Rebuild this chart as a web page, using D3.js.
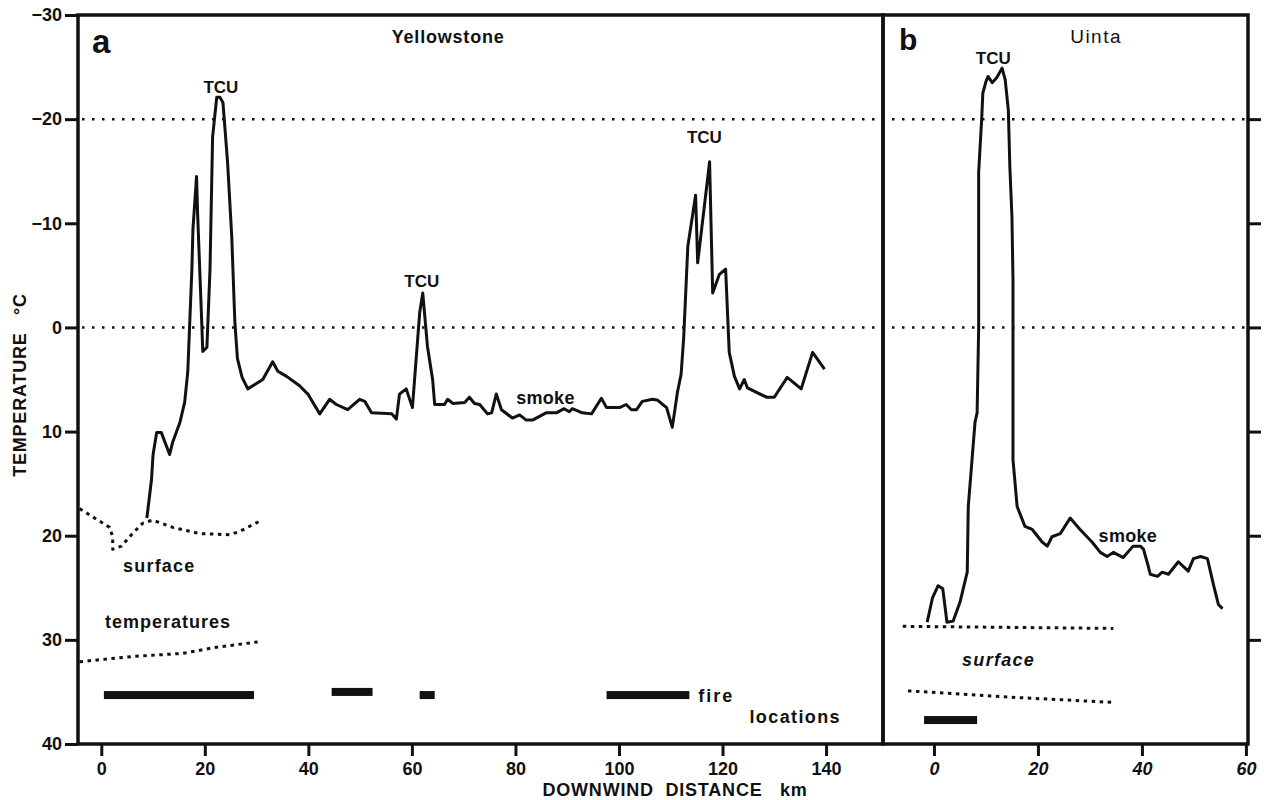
<!DOCTYPE html>
<html>
<head>
<meta charset="utf-8">
<script src="https://cdn.jsdelivr.net/npm/d3@7"></script>
<style>
  body { margin: 0; background: #fff; }
  text { font-family: "Liberation Sans", Arial, sans-serif; fill: #111; }
</style>
</head>
<body>
<svg id="chart" width="1264" height="800"></svg>
<script>
// temperature traces: [km downwind, deg C]
var yellowstoneTrace = [[8.8,18.3],[9.7,14.6],[10,12.2],[10.7,10.1],[11.6,10.1],[13.2,12.2],[13.8,11.0],[15.2,9.1],[16.1,7.2],[16.7,4.3],
  [17.5,-5.6],[17.7,-9.4],[18.4,-14.5],[18.6,-11.0],[19.4,-0.5],[19.6,2.3],[20.4,1.9],[21.0,-5.6],[21.5,-18.3],[22.3,-22.1],
  [22.9,-22.1],[23.5,-21.6],[24.4,-15.8],[25.2,-8.7],[25.8,-0.5],[26.3,3.0],[27.2,4.8],[28.3,5.9],[31.2,5.0],[33.1,3.3],
  [34.1,4.2],[35.8,4.7],[38.3,5.6],[39.9,6.4],[42.2,8.3],[44.1,6.9],[45.4,7.4],[47.6,7.9],[49.9,6.9],[50.9,7.1],[52.2,8.2],
  [56.1,8.3],[57.0,8.8],[57.6,6.4],[58.9,5.9],[60.1,7.7],[61.5,-1.4],[62.1,-3.3],[63.0,1.8],[64.0,5.0],[64.4,7.4],[66.3,7.4],
  [66.9,6.9],[67.9,7.3],[70.2,7.2],[71.1,6.7],[72.1,7.3],[73.1,7.4],[74.6,8.3],[75.4,8.2],[76.3,6.4],[77.3,7.9],[79.4,8.7],
  [80.8,8.4],[82.1,8.9],[83.3,8.9],[85.9,8.2],[87.9,8.2],[89.4,7.8],[90.4,8.1],[91.0,7.8],[92.9,8.2],[94.7,8.3],[96.6,6.8],
  [97.6,7.7],[100.1,7.7],[101.4,7.4],[102.4,7.9],[103.4,7.9],[104.5,7.1],[106.5,6.9],[107.5,7.0],[109.2,7.7],[110.3,9.6],
  [111.3,6.2],[112.0,4.5],[112.5,1.0],[113.3,-7.8],[114.8,-12.7],[115.2,-6.2],[117.5,-15.9],[118.1,-3.3],[119.4,-5.1],
  [120.6,-5.6],[121.3,2.4],[122.3,4.7],[123.3,5.9],[124.2,5.0],[124.8,5.8],[128.5,6.7],[130.0,6.7],[132.5,4.8],[135.2,5.9],
  [137.4,2.4],[139.7,4.0]];

var uintaTrace = [[-1.3,28.3],[-0.3,26.0],[0.8,24.8],[1.7,25.1],[2.5,28.3],[3.7,28.2],[5.0,26.4],[6.4,23.5],[6.6,17.2],[7.9,9.1],
  [8.3,8.2],[8.6,0],[8.6,-14.9],[9.2,-20.2],[9.4,-22.5],[10.0,-23.6],[10.4,-24.1],[11.2,-23.5],[12.1,-24.0],[13.1,-24.9],
  [13.7,-23.8],[14.3,-20.9],[14.6,-15.4],[15.0,-10.6],[15.2,-4.6],[15.2,1.8],[15.2,12.7],[16.0,17.2],[17.5,19.1],[18.9,19.4],
  [20.8,20.6],[21.8,21.0],[22.7,20.1],[24.3,19.8],[26.2,18.3],[28.1,19.4],[30.4,20.6],[32.0,21.6],[33.3,22.0],[34.5,21.6],
  [36.4,22.1],[38.3,21.0],[39.7,21.0],[40.3,21.3],[41.2,22.9],[41.6,23.7],[43.0,23.9],[43.9,23.5],[45.1,23.7],[47.0,22.5],
  [48.9,23.4],[49.9,22.2],[51.3,22.0],[52.6,22.2],[53.8,24.8],[54.7,26.6],[55.5,27.0]];

// surface temperatures (dotted)
var surfaceA1 = [[-4.2,17.4],[1.6,19.2],[2.2,20.1],[2.2,21.3],[3.9,21.0],[6.0,19.8],[8.0,18.8],[9.9,18.5],[13.8,19.2],
  [19.0,19.8],[24.8,19.9],[26.7,19.6],[31.0,18.5]];
var surfaceA2 = [[-4.2,32.1],[6,31.6],[15.7,31.3],[22.3,30.7],[30.2,30.2]];
var surfaceB1 = [[-6.0,28.7],[14,28.8],[34.5,28.9]];
var surfaceB2 = [[-5.0,34.9],[14.6,35.5],[34.3,36.0]];

// fire locations: [from km, to km, temp level]
var firesA = [[0.5,29.5,35.3],[44.5,52.4,35.0],[61.5,64.4,35.3],[97.6,113.6,35.3]];
var firesB = [[-1.9,8.3,37.7]];

var tempTicks = [-30,-20,-10,0,10,20,30,40];
var kmTicksA = [0,20,40,60,80,100,120,140];
var kmTicksB = [0,20,40,60];
var refLevels = [-20,0];

var svg = d3.select("#chart");

var y = d3.scaleLinear().domain([-30,40]).range([15,744]);
var xa = d3.scaleLinear().domain([-4.5,151]).range([78,883]);
var xb = d3.scaleLinear().domain([-9.8,60.4]).range([883,1248]);

function styleAxis(g){
  g.select(".domain").remove();
  g.selectAll(".tick line").attr("stroke","#111").attr("stroke-width",3);
  g.selectAll(".tick text").attr("font-size",18).attr("font-weight","bold").attr("fill","#111")
    .attr("font-family","Liberation Sans, Arial, sans-serif");
}

// axes
svg.append("g").attr("transform","translate(78,0)")
  .call(d3.axisLeft(y).tickValues(tempTicks).tickSize(13).tickPadding(3))
  .call(styleAxis);
svg.append("g").attr("transform","translate(0,744)")
  .call(d3.axisBottom(xa).tickValues(kmTicksA).tickSize(12).tickPadding(6))
  .call(styleAxis);
svg.append("g").attr("transform","translate(0,744)")
  .call(d3.axisBottom(xb).tickValues(kmTicksB).tickSize(12).tickPadding(6))
  .call(styleAxis)
  .selectAll(".tick text").attr("font-style","italic");
svg.append("g").attr("transform","translate(1248,0)")
  .call(d3.axisRight(y).tickValues([-20,-10,0,10,20,30]).tickSize(13).tickFormat(""))
  .call(styleAxis);

// dotted reference lines across both panels
svg.selectAll(".ref").data(refLevels).enter().append("line")
  .attr("x1",xa(-4.5)+4).attr("x2",xb(60.4))
  .attr("y1",d => y(d)).attr("y2",d => y(d))
  .attr("stroke","#111").attr("stroke-width",2.5).attr("stroke-dasharray","2.5,7.5");

// panel frames
var frame = svg.append("g").attr("fill","none").attr("stroke","#111").attr("stroke-width",3.5);
frame.append("rect").attr("x",xa(-4.5)).attr("y",y(-30)).attr("width",xa(151)-xa(-4.5)).attr("height",y(40)-y(-30));
frame.append("rect").attr("x",xb(-9.8)).attr("y",y(-30)).attr("width",xb(60.4)-xb(-9.8)).attr("height",y(40)-y(-30));

var lineA = d3.line().x(d => xa(d[0])).y(d => y(d[1]));
var lineB = d3.line().x(d => xb(d[0])).y(d => y(d[1]));

function trace(data, gen, dotted){
  var p = svg.append("path").datum(data).attr("d",gen)
    .attr("fill","none").attr("stroke","#111").attr("stroke-linejoin","round");
  if (dotted) p.attr("stroke-width",3).attr("stroke-dasharray","3.5,4.5");
  else p.attr("stroke-width",3);
}

trace(yellowstoneTrace, lineA, false);
trace(uintaTrace, lineB, false);
trace(surfaceA1, lineA, true);
trace(surfaceA2, lineA, true);
trace(surfaceB1, lineB, true);
trace(surfaceB2, lineB, true);

// fire location bars
svg.selectAll(".fireA").data(firesA).enter().append("rect")
  .attr("x",d => xa(d[0])).attr("width",d => xa(d[1])-xa(d[0]))
  .attr("y",d => y(d[2])-4).attr("height",8).attr("fill","#111");
svg.selectAll(".fireB").data(firesB).enter().append("rect")
  .attr("x",d => xb(d[0])).attr("width",d => xb(d[1])-xb(d[0]))
  .attr("y",d => y(d[2])-4).attr("height",8).attr("fill","#111");

// annotations
function label(x, yy, txt, opts){
  opts = opts || {};
  svg.append("text").attr("x",x).attr("y",yy).text(txt)
    .attr("dominant-baseline","central")
    .attr("text-anchor",opts.anchor || "start")
    .attr("font-size",opts.size || 17)
    .attr("font-weight",opts.weight || "bold")
    .attr("font-style",opts.style || "normal")
    .attr("letter-spacing",opts.ls || 0);
}

label(xa(-1.8), y(-27.5), "a", {size:33});
label(xb(-6.7), y(-27.6), "b", {size:30});
label(xa(56.1), y(-27.9), "Yellowstone", {size:18, ls:0.8});
label(xb(26.2), y(-27.9), "Uinta", {size:19, weight:"normal", ls:1.5});

label(xa(23.1), y(-23.0), "TCU", {anchor:"middle", size:17});
label(xa(61.9), y(-4.4), "TCU", {anchor:"middle", size:17});
label(xa(116.5), y(-18.2), "TCU", {anchor:"middle", size:17});
label(xb(11.4), y(-25.8), "TCU", {anchor:"middle", size:17});

label(xa(85.8), y(6.8), "smoke", {anchor:"middle", size:18, ls:0.3});
label(xb(37.3), y(20.0), "smoke", {anchor:"middle", size:18, ls:0.3});

label(xa(4.2), y(22.9), "surface", {size:18, ls:1.2});
label(xa(0.7), y(28.3), "temperatures", {size:18, ls:1});
label(xa(115.3), y(35.4), "fire", {size:18, ls:2});
label(xa(125.2), y(37.4), "locations", {size:18, ls:1.4});
label(xb(5.4), y(31.9), "surface", {size:18, ls:1.3, style:"italic"});

// axis titles
svg.append("text").attr("x",675).attr("y",790)
  .attr("text-anchor","middle").attr("dominant-baseline","central")
  .attr("font-size",18).attr("font-weight","bold").attr("letter-spacing",0.8)
  .style("white-space","pre").text("DOWNWIND  DISTANCE   km");
svg.append("text").attr("transform","translate(20,385) rotate(-90)")
  .attr("text-anchor","middle").attr("dominant-baseline","central")
  .attr("font-size",18).attr("font-weight","bold").attr("letter-spacing",0.8)
  .style("white-space","pre").text("TEMPERATURE   °C");
</script>
</body>
</html>
